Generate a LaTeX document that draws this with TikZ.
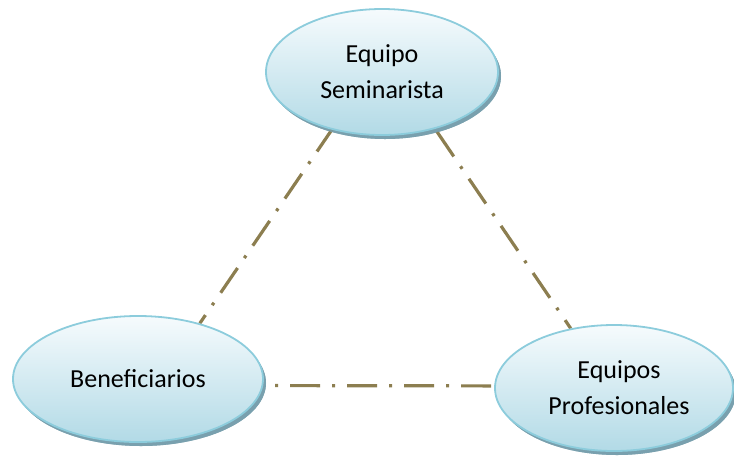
\documentclass[tikz,border=0pt]{standalone}
\usepackage{fontspec}
\setmainfont{Carlito}
\usetikzlibrary{shapes.geometric,shadows}
\definecolor{ellborder}{RGB}{140,204,220}
\definecolor{elltop}{RGB}{246,251,253}
\definecolor{ellbottom}{RGB}{178,218,230}
\definecolor{ellshadow}{RGB}{118,158,172}
\definecolor{linkcol}{RGB}{140,126,80}
\tikzset{
  bubble/.style={ellipse, draw=ellborder, line width=1.8pt,
    top color=elltop, bottom color=ellbottom, inner sep=0pt,
    minimum height=126pt, align=center,
    font=\fontsize{26}{36}\selectfont,
    drop shadow={shadow xshift=3pt, shadow yshift=-4pt, fill=ellshadow, opacity=0.85}},
  link/.style={draw=linkcol, line width=3.2pt,
    dash pattern=on 30pt off 12pt on 3pt off 12pt}
}
\begin{document}
\begin{tikzpicture}[x=1pt,y=-1pt]
\useasboundingbox (0,0) rectangle (734,456);
\coordinate (semc) at (382,72);
\coordinate (benc) at (138,379);
\coordinate (proc) at (614,388);
% connectors behind the ellipses
\path (semc) node[bubble, minimum width=232pt, opacity=0] (sem0) {};
\path (benc) node[bubble, minimum width=250pt, opacity=0] (ben0) {};
\path (proc) node[bubble, minimum width=238pt, opacity=0] (pro0) {};
\draw[link, dash phase=20pt] (ben0.42) -- (sem0.229);
\draw[link, dash phase=20pt] (pro0.126) -- (sem0.313);
\draw[link, dash phase=30pt] (ben0.-3) -- (pro0.179);
\node[bubble, minimum width=232pt] (sem) at (semc) {Equipo\\Seminarista};
\node[bubble, minimum width=250pt] (ben) at (benc) {Beneficiarios};
\node[bubble, minimum width=238pt] (pro) at (proc) {\hspace*{10pt}Equipos\\\hspace*{10pt}Profesionales};
\end{tikzpicture}
\end{document}
